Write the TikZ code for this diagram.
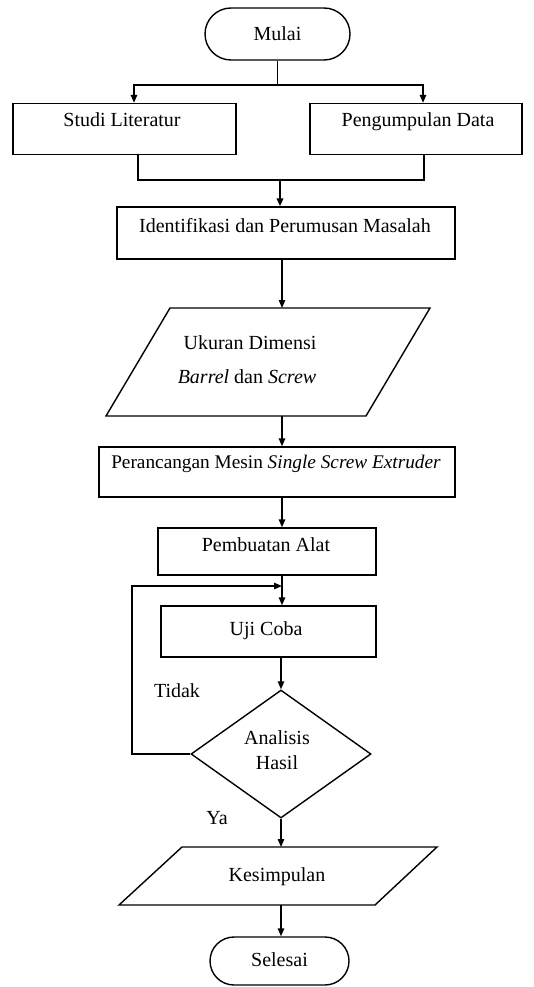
\documentclass[tikz,border=0pt]{standalone}
\usepackage{fontspec}
\setmainfont{Liberation Serif}
\usetikzlibrary{shapes.geometric,shapes.misc,arrows.meta}
\begin{document}
\begin{tikzpicture}[x=1pt,y=-1pt,
  ln/.style={draw,line width=1.4pt},
  arr/.style={ln,-{Triangle[length=8pt,width=6.5pt]}},
  boxshape/.style={ln,rectangle,inner sep=0pt},
  term/.style={ln,rounded rectangle,inner sep=0pt},
  decision/.style={ln,diamond,inner sep=0pt},
  lbl/.style={inner sep=0pt,text height=13pt,text depth=4pt,font=\fontsize{20}{24}\selectfont}
]
\useasboundingbox (0,0) rectangle (534,987);

% --- process boxes and terminators ---
\node[term,minimum width=145pt,minimum height=52pt] (mulai) at (277.5,34) {};
\node[boxshape,minimum width=223pt,minimum height=51pt] (studi) at (124.5,129) {};
\node[boxshape,minimum width=212pt,minimum height=51pt] (peng) at (416,129) {};
\node[boxshape,minimum width=338pt,minimum height=52pt] (ident) at (286,233) {};
\node[boxshape,minimum width=356pt,minimum height=50pt] (ranc) at (277,472) {};
\node[boxshape,minimum width=218pt,minimum height=47pt] (buat) at (267,551.5) {};
\node[boxshape,minimum width=215pt,minimum height=51pt] (uji) at (268.5,631.5) {};
\node[decision,minimum width=180pt,minimum height=128pt] (analisis) at (281,754) {};
\node[term,minimum width=139pt,minimum height=48pt] (selesai) at (279.5,961) {};

% --- input/output parallelograms ---
\coordinate (ukTL) at (170,308);
\coordinate (ukTR) at (430,308);
\coordinate (ukBR) at (366,416);
\coordinate (ukBL) at (106,416);
\draw[ln,line join=miter] (ukTL) -- (ukTR) -- (ukBR) -- (ukBL) -- cycle;
\coordinate (ukTop) at (282,308);
\coordinate (ukBot) at (282,416);

\coordinate (kesTL) at (182,847);
\coordinate (kesTR) at (437,847);
\coordinate (kesBR) at (375,905);
\coordinate (kesBL) at (119,905);
\draw[ln,line join=miter] (kesTL) -- (kesTR) -- (kesBR) -- (kesBL) -- cycle;
\coordinate (kesTop) at (281,847);
\coordinate (kesBot) at (281,905);

% --- labels ---
\node[lbl] (mulaiT) at (277.5,36) {Mulai};
\node[lbl] (studiT) at (122,122) {Studi Literatur};
\node[lbl] (pengT) at (418,122) {Pengumpulan Data};
\node[lbl] (identT) at (285,227.5) {Identifikasi dan Perumusan Masalah};
\node[lbl] (ukT1) at (250,345) {Ukuran Dimensi};
\node[lbl] (ukT2) at (247,379) {\textit{Barrel} dan \textit{Screw}};
\node[lbl,font=\fontsize{19.3}{23}\selectfont] (rancT) at (276,464) {Perancangan Mesin \textit{Single Screw Extruder}};
\node[lbl] (buatT) at (266,547) {Pembuatan Alat};
\node[lbl] (ujiT) at (266,631) {Uji Coba};
\node[lbl] (anT1) at (277,740) {Analisis};
\node[lbl] (anT2) at (277,765) {Hasil};
\node[lbl] (tidak) at (177,693) {Tidak};
\node[lbl] (ya) at (217,820) {Ya};
\node[lbl] (kesT) at (277,877) {Kesimpulan};
\node[lbl] (selesaiT) at (279.5,962) {Selesai};

% --- routing points ---
\coordinate (fork) at (277.5,85);
\coordinate (forkL) at (134,85);
\coordinate (forkR) at (423,85);
\coordinate (joinL) at (138,180);
\coordinate (joinR) at (424,180);
\coordinate (join) at (280,180);
\coordinate (spine) at (282,0);
\coordinate (spineB) at (281,0);
\coordinate (loopB) at (132,754);
\coordinate (loopT) at (132,586);

% --- connectors ---
\draw[ln] (mulai.south) -- (fork);
\draw[arr] (fork) -- (forkL) -- (forkL |- studi.north);
\draw[arr] (fork) -- (forkR) -- (forkR |- peng.north);
\draw[ln] (studi.south -| joinL) -- (joinL) -- (joinR) -- (peng.south -| joinR);
\draw[arr,line width=2.2pt] (join) -- (join |- ident.north);
\draw[arr] (ident.south -| spine) -- (ukTop);
\draw[arr] (ukBot) -- (spine |- ranc.north);
\draw[arr] (ranc.south -| spine) -- (spine |- buat.north);
\draw[arr] (buat.south -| spine) -- (spine |- uji.north);
\draw[arr] (uji.south -| spineB) -- (analisis.north);
\draw[arr] (analisis.west) -- (loopB) -- (loopT) -- (loopT -| spine);
\draw[arr] (analisis.south) -- (kesTop);
\draw[arr] (kesBot) -- (selesai.north -| spineB);
\end{tikzpicture}
\end{document}
